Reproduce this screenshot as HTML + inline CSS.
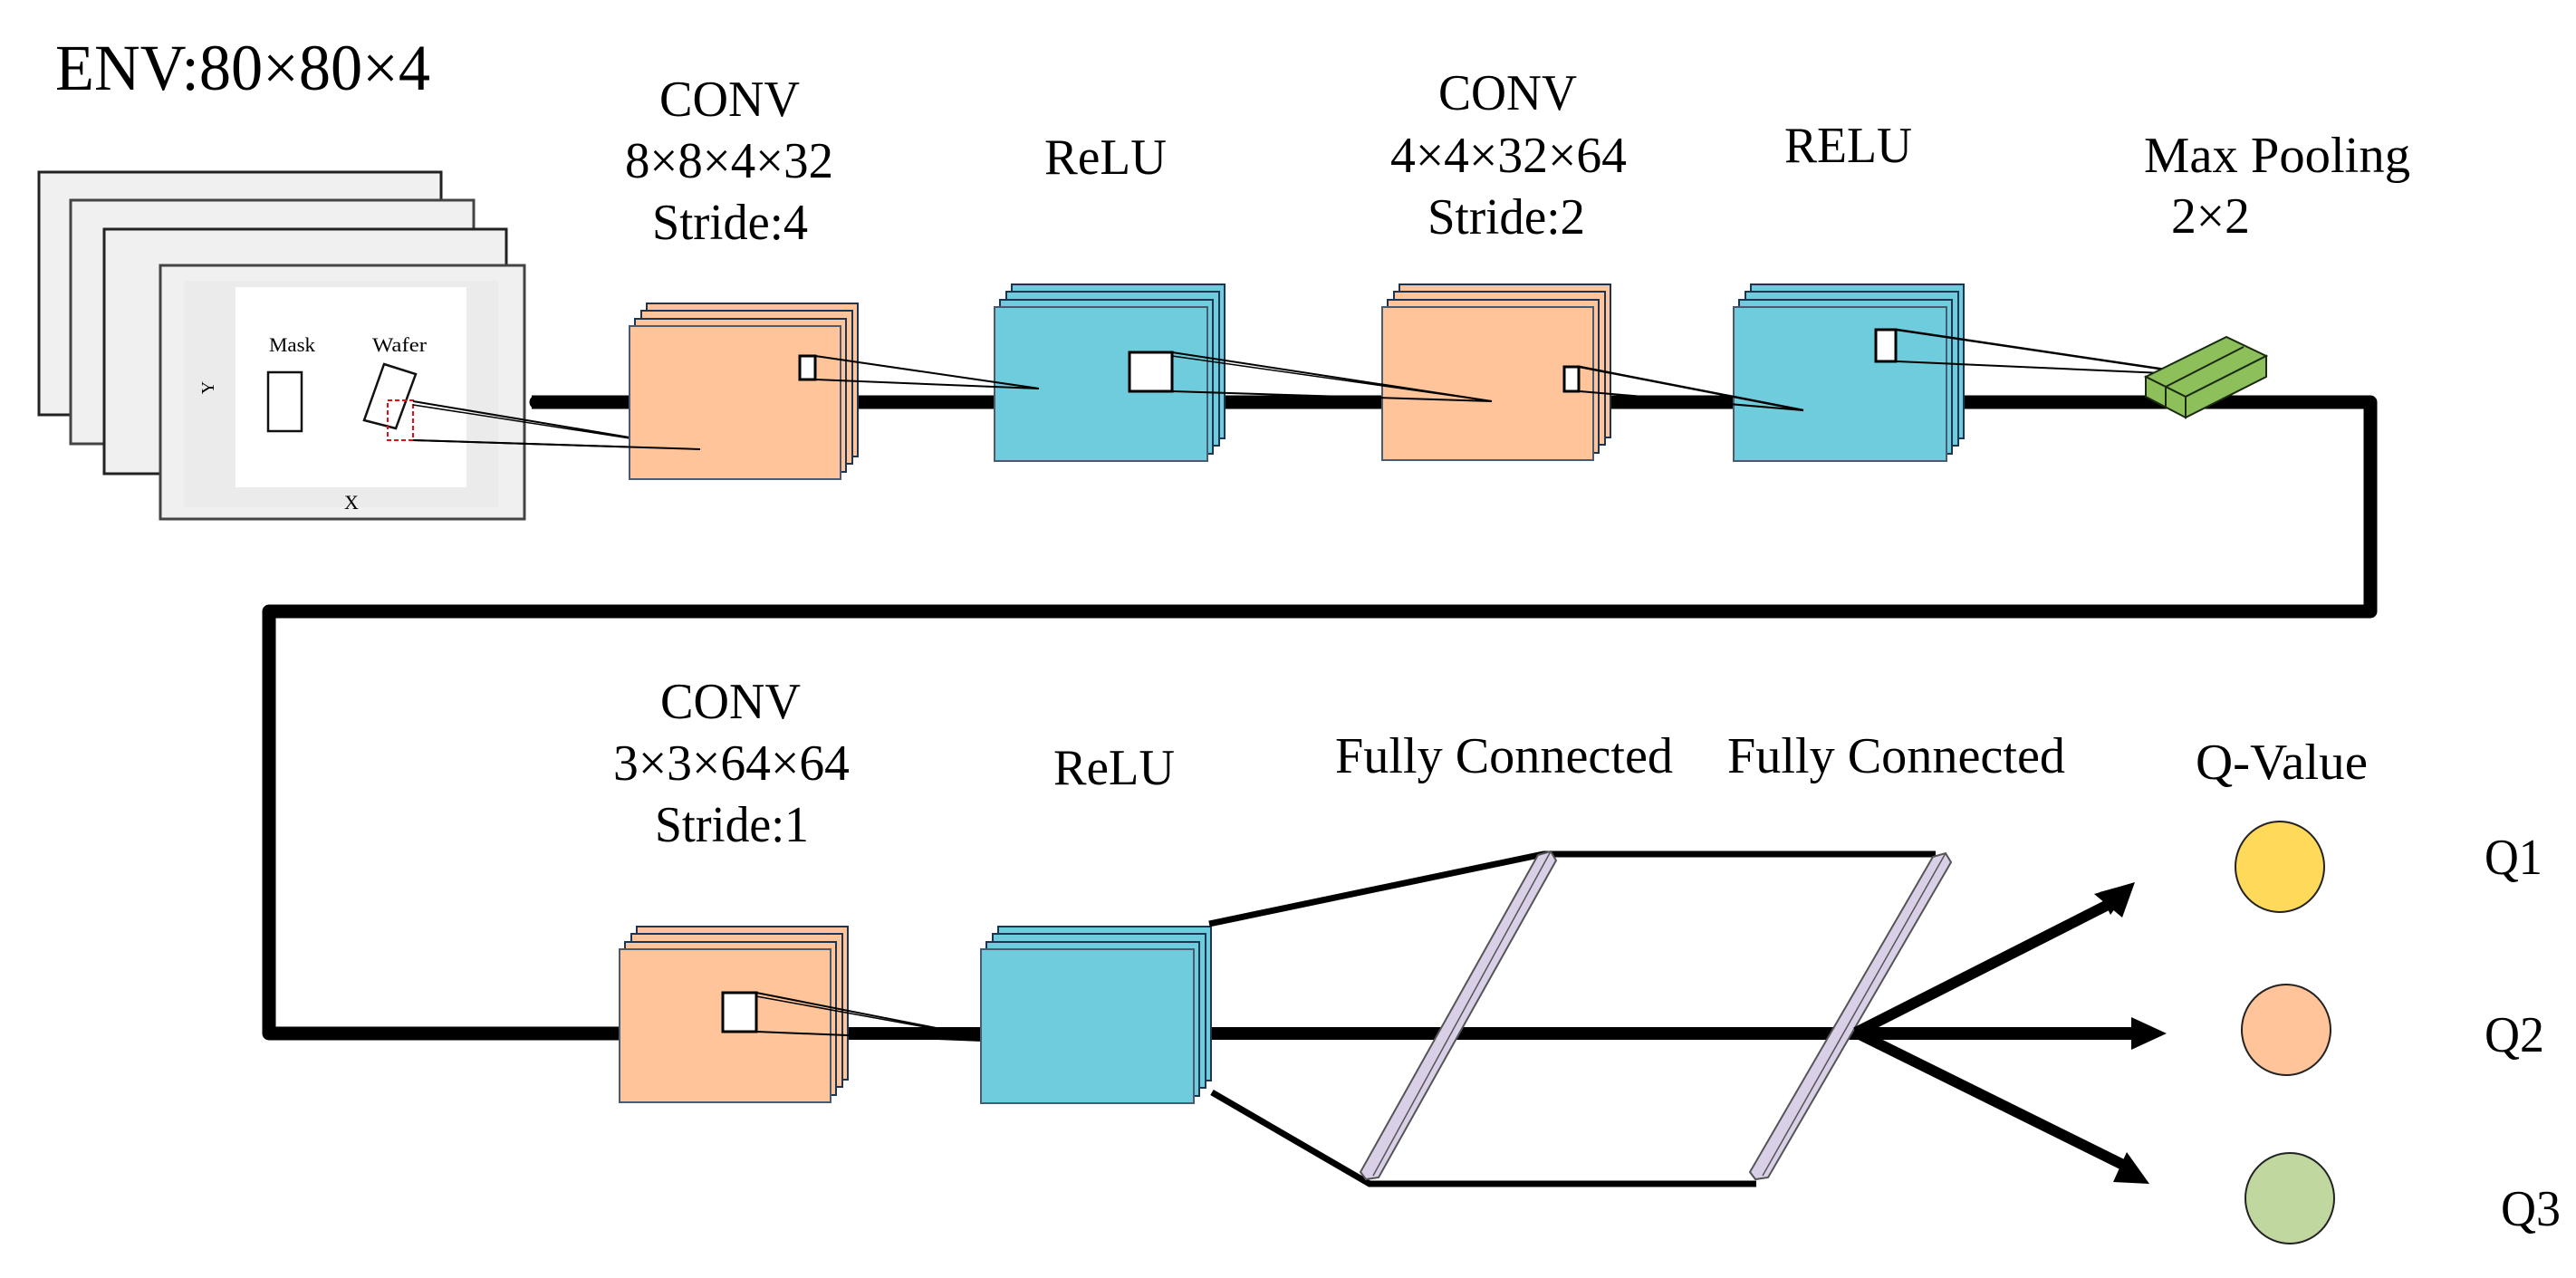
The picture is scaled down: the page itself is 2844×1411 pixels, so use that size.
<!DOCTYPE html>
<html><head><meta charset="utf-8"><style>
html,body{margin:0;padding:0;background:#fff;}
svg{display:block;}
text{font-family:"Liberation Serif",serif;fill:#000;}
</style></head><body>
<svg width="2844" height="1411" viewBox="0 0 2844 1411" xmlns="http://www.w3.org/2000/svg">
<defs>
<g id="conv">
  <rect x="19" y="-25" width="233" height="169" fill="#FFC499" stroke="#1c3553" stroke-width="2"/>
  <rect x="13" y="-17" width="233" height="169" fill="#FFC499" stroke="#1c3553" stroke-width="2"/>
  <rect x="6" y="-8" width="233" height="169" fill="#FFC499" stroke="#1c3553" stroke-width="2"/>
  <rect x="0" y="0" width="233" height="169" fill="#FFC499" stroke="#4a5a70" stroke-width="2"/>
</g>
<g id="relu">
  <rect x="19" y="-25" width="235" height="170" fill="#6ECCDC" stroke="#1c3553" stroke-width="2"/>
  <rect x="13" y="-17" width="235" height="170" fill="#6ECCDC" stroke="#1c3553" stroke-width="2"/>
  <rect x="6" y="-8" width="235" height="170" fill="#6ECCDC" stroke="#1c3553" stroke-width="2"/>
  <rect x="0" y="0" width="235" height="170" fill="#6ECCDC" stroke="#4a5a70" stroke-width="2"/>
</g>
</defs>

<!-- ENV title -->
<text x="61" y="99" font-size="72" textLength="414" lengthAdjust="spacingAndGlyphs">ENV:80×80×4</text>

<!-- frames -->
<rect x="43" y="190" width="444" height="268" fill="#f0f0f0" stroke="#222" stroke-width="3"/>
<rect x="78" y="221" width="445" height="269" fill="#f0f0f0" stroke="#444" stroke-width="3"/>
<rect x="115" y="253" width="444" height="270" fill="#f0f0f0" stroke="#222" stroke-width="3"/>
<rect x="177" y="293" width="402" height="280" fill="#f0f0f0" stroke="#444" stroke-width="3"/>
<rect x="203" y="310" width="347" height="250" fill="#ebebeb"/>
<rect x="260" y="317" width="255" height="221" fill="#fff"/>
<text x="297" y="388" font-size="22" textLength="51" lengthAdjust="spacingAndGlyphs" fill="#333">Mask</text>
<text x="411" y="388" font-size="22" textLength="60" lengthAdjust="spacingAndGlyphs" fill="#333">Wafer</text>
<rect x="296" y="411" width="37" height="65" fill="none" stroke="#111" stroke-width="2.5"/>
<polygon points="424,402 459,413 437,473 402,464" fill="none" stroke="#111" stroke-width="2.5"/>
<rect x="428" y="442" width="28" height="44" fill="none" stroke="#e01010" stroke-width="2" stroke-dasharray="5,3"/>
<text x="0" y="0" font-size="20" fill="#444" transform="translate(236,428) rotate(-90)" text-anchor="middle">Y</text>
<text x="388" y="562" font-size="22" fill="#444" text-anchor="middle">X</text>
<line x1="456" y1="443" x2="773" y2="496" stroke="#000" stroke-width="2"/>
<line x1="456" y1="486" x2="773" y2="496" stroke="#000" stroke-width="2"/>
<line x1="456" y1="447" x2="773" y2="496" stroke="#000" stroke-width="1.5"/>

<!-- main connector top -->
<polyline points="587,444 2617,444 2617,675 297,675 297,1141 700,1141" fill="none" stroke="#000" stroke-width="15" stroke-linejoin="round"/>
<line x1="592" y1="444" x2="592" y2="444" stroke="#000" stroke-width="15" stroke-linecap="round"/>

<!-- conv1 -->
<use href="#conv" x="695" y="360"/>
<rect x="883" y="393" width="17" height="26" fill="#fff" stroke="#000" stroke-width="3"/>
<line x1="456" y1="486" x2="773" y2="496" stroke="#000" stroke-width="2"/>
<!-- labels conv1 -->
<text x="728" y="128" font-size="56" textLength="155" lengthAdjust="spacingAndGlyphs">CONV</text>
<text x="690" y="196" font-size="56" textLength="230" lengthAdjust="spacingAndGlyphs">8×8×4×32</text>
<text x="720" y="264" font-size="56" textLength="172" lengthAdjust="spacingAndGlyphs">Stride:4</text>

<!-- relu1 -->
<use href="#relu" x="1098" y="339"/>
<line x1="900" y1="393" x2="1147" y2="429" stroke="#000" stroke-width="2"/>
<line x1="900" y1="419" x2="1147" y2="429" stroke="#000" stroke-width="2"/>
<rect x="1247" y="389" width="47" height="43" fill="#fff" stroke="#000" stroke-width="3"/>
<text x="1153" y="192" font-size="56" textLength="135" lengthAdjust="spacingAndGlyphs">ReLU</text>

<!-- conv2 -->
<use href="#conv" x="1526" y="339"/>
<line x1="1294" y1="389" x2="1647" y2="443" stroke="#000" stroke-width="2"/>
<line x1="1294" y1="393" x2="1647" y2="443" stroke="#000" stroke-width="1.5"/>
<line x1="1294" y1="432" x2="1647" y2="443" stroke="#000" stroke-width="2"/>
<rect x="1727" y="405" width="16" height="27" fill="#fff" stroke="#000" stroke-width="3"/>
<text x="1588" y="121" font-size="56" textLength="153" lengthAdjust="spacingAndGlyphs">CONV</text>
<text x="1535" y="190" font-size="56" textLength="261" lengthAdjust="spacingAndGlyphs">4×4×32×64</text>
<text x="1576" y="258" font-size="56" textLength="174" lengthAdjust="spacingAndGlyphs">Stride:2</text>

<!-- relu2 -->
<use href="#relu" x="1914" y="339"/>
<line x1="1744" y1="405" x2="1991" y2="453" stroke="#000" stroke-width="2.5"/>
<line x1="1744" y1="432" x2="1991" y2="453" stroke="#000" stroke-width="2"/>
<rect x="2071" y="364" width="22" height="35" fill="#fff" stroke="#000" stroke-width="3"/>
<text x="1970" y="179" font-size="56" textLength="141" lengthAdjust="spacingAndGlyphs">RELU</text>

<!-- max pool -->
<line x1="2094" y1="364" x2="2411" y2="411" stroke="#000" stroke-width="2.5"/>
<line x1="2094" y1="399" x2="2411" y2="413" stroke="#000" stroke-width="2"/>
<polygon points="2369,416 2458,372 2502,393 2413,438" fill="#8DBF5A" stroke="#1a2a10" stroke-width="2"/>
<polygon points="2369,416 2413,438 2413,461 2369,438" fill="#8DBF5A" stroke="#1a2a10" stroke-width="2"/>
<polygon points="2413,438 2502,393 2502,416 2413,461" fill="#8DBF5A" stroke="#1a2a10" stroke-width="2"/>
<line x1="2391" y1="427" x2="2477" y2="383" stroke="#1a2a10" stroke-width="2"/>
<line x1="2391" y1="427" x2="2391" y2="450" stroke="#1a2a10" stroke-width="2"/>
<text x="2367" y="190" font-size="56" textLength="294" lengthAdjust="spacingAndGlyphs">Max Pooling</text>
<text x="2397" y="257" font-size="56" textLength="87" lengthAdjust="spacingAndGlyphs">2×2</text>

<!-- second row main line -->
<line x1="900" y1="1141" x2="2360" y2="1141" stroke="#000" stroke-width="14"/>
<polygon points="2353,1123 2392,1141 2353,1159" fill="#000"/>

<!-- conv3 -->
<use href="#conv" x="684" y="1048"/>
<rect x="798" y="1096" width="37" height="43" fill="#fff" stroke="#000" stroke-width="3"/>
<line x1="835" y1="1096" x2="1110" y2="1150" stroke="#000" stroke-width="2"/>
<line x1="835" y1="1100" x2="1110" y2="1150" stroke="#000" stroke-width="1.5"/>
<line x1="835" y1="1139" x2="1110" y2="1150" stroke="#000" stroke-width="2"/>
<text x="729" y="793" font-size="56" textLength="155" lengthAdjust="spacingAndGlyphs">CONV</text>
<text x="677" y="861" font-size="56" textLength="261" lengthAdjust="spacingAndGlyphs">3×3×64×64</text>
<text x="723" y="929" font-size="56" textLength="170" lengthAdjust="spacingAndGlyphs">Stride:1</text>

<!-- relu3 -->
<use href="#relu" x="1083" y="1048"/>
<text x="1163" y="866" font-size="56" textLength="134" lengthAdjust="spacingAndGlyphs">ReLU</text>

<!-- FC connectors -->
<polyline points="1335,1020 1704,943 2137,943" fill="none" stroke="#000" stroke-width="7"/>
<polyline points="1338,1206 1512,1307 1939,1307" fill="none" stroke="#000" stroke-width="7"/>

<!-- FC slabs -->
<polygon points="1698,944 1712,940 1718,950 1522,1300 1508,1302 1502,1294" fill="#D9D0E8" stroke="#555" stroke-width="2"/>
<line x1="1712" y1="940" x2="1516" y2="1298" stroke="#555" stroke-width="1.5"/>
<polygon points="2134,946 2148,942 2154,952 1952,1300 1938,1302 1932,1294" fill="#D9D0E8" stroke="#555" stroke-width="2"/>
<line x1="2148" y1="942" x2="1946" y2="1298" stroke="#555" stroke-width="1.5"/>

<text x="1474" y="853" font-size="56" textLength="373" lengthAdjust="spacingAndGlyphs">Fully Connected</text>
<text x="1907" y="853" font-size="56" textLength="373" lengthAdjust="spacingAndGlyphs">Fully Connected</text>

<!-- branch arrows -->
<line x1="2049" y1="1140" x2="2335" y2="995" stroke="#000" stroke-width="12"/>
<polygon points="2355,975 2330,1010 2318,985" fill="#000" transform=""/>
<polygon points="2357,974 2343,1013 2312,987" fill="#000"/>
<line x1="2049" y1="1140" x2="2352" y2="1290" stroke="#000" stroke-width="12"/>
<polygon points="2373,1307 2333,1305 2348,1272" fill="#000"/>

<!-- Q values -->
<ellipse cx="2517" cy="957" rx="49" ry="50" fill="#FFD95A" stroke="#222" stroke-width="2"/>
<ellipse cx="2524" cy="1137" rx="49" ry="50" fill="#FFC499" stroke="#222" stroke-width="2"/>
<ellipse cx="2528" cy="1323" rx="49" ry="50" fill="#C0D8A0" stroke="#222" stroke-width="2"/>
<text x="2424" y="860" font-size="56" textLength="190" lengthAdjust="spacingAndGlyphs">Q-Value</text>
<text x="2743" y="965" font-size="56" textLength="64" lengthAdjust="spacingAndGlyphs">Q1</text>
<text x="2743" y="1161" font-size="56" textLength="66" lengthAdjust="spacingAndGlyphs">Q2</text>
<text x="2761" y="1353" font-size="56" textLength="66" lengthAdjust="spacingAndGlyphs">Q3</text>
</svg>
</body></html>
